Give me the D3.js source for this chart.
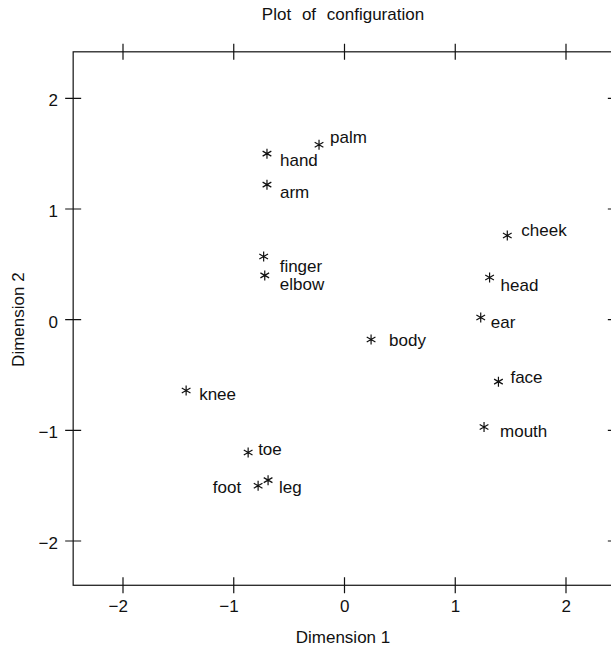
<!DOCTYPE html>
<html>
<head>
<meta charset="utf-8">
<script src="https://cdn.jsdelivr.net/npm/d3@7"></script>
<style>
  body { margin: 0; background: #fff; }
  svg text { font-family: "Liberation Sans", Arial, Helvetica, sans-serif; fill: #111; }
</style>
</head>
<body>
<svg id="chart" width="611" height="656"></svg>
<script>
//
// values
var names = ['palm', 'hand', 'arm', 'finger', 'elbow', 'cheek', 'head', 'ear', 'body',
             'face', 'mouth', 'knee', 'toe', 'foot', 'leg'],
    dim1 = [-0.23, -0.70, -0.70, -0.73, -0.72, 1.47, 1.31, 1.23, 0.24,
            1.39, 1.26, -1.43, -0.87, -0.78, -0.69],
    dim2 = [1.58, 1.50, 1.22, 0.57, 0.40, 0.76, 0.38, 0.02, -0.18,
            -0.56, -0.97, -0.64, -1.20, -1.50, -1.45],
    ticks = [-2, -1, 0, 1, 2];

// label placement (dx, dy from the point, and anchor)
var labelDx = [11, 13, 13, 16, 15, 14, 11, 10, 18, 12, 16, 13, 10, -17, 11],
    labelDy = [-8, 6, 7, 9, 9, -6, 7, 5, 0, -5, 4, 4, -3, 1, 7],
    labelAnchor = ['start', 'start', 'start', 'start', 'start', 'start', 'start', 'start', 'start',
                   'start', 'start', 'start', 'start', 'end', 'start'];

var svg = d3.select('#chart'),
    x = d3.scaleLinear().domain([-2, 2]).range([123, 566]),
    y = d3.scaleLinear().domain([-2, 2]).range([541, 98.3]),
    xLeft = x(-2.45), xRight = x(2.45), yTop = y(2.42), yBottom = y(-2.4),
    tickLen = 8,
    fmt = function(d) { return d < 0 ? '\u2212' + (-d) : '' + d; };

// frame
svg.append('rect')
  .attr('x', xLeft).attr('y', yTop)
  .attr('width', xRight - xLeft).attr('height', yBottom - yTop)
  .attr('fill', 'none').attr('stroke', '#111').attr('stroke-width', 1.2);

// ticks crossing the frame on all four sides
svg.selectAll('.xtick').data(ticks).enter()
  .append('path').attr('class', 'xtick')
  .attr('stroke', '#111').attr('stroke-width', 1.2)
  .attr('d', function(d) {
    return 'M' + x(d) + ',' + (yTop - tickLen) + 'v' + (2 * tickLen) +
           'M' + x(d) + ',' + (yBottom - tickLen) + 'v' + (2 * tickLen); });
svg.selectAll('.ytick').data(ticks).enter()
  .append('path').attr('class', 'ytick')
  .attr('stroke', '#111').attr('stroke-width', 1.2)
  .attr('d', function(d) {
    return 'M' + (xLeft - tickLen) + ',' + y(d) + 'h' + (2 * tickLen) +
           'M' + (xRight - tickLen) + ',' + y(d) + 'h' + (2 * tickLen); });

// tick labels: digit centred on the tick, minus hangs to the left
svg.selectAll('.xlab').data(ticks).enter()
  .append('text').attr('class', 'xlab')
  .attr('x', function(d) { return x(d) + 5; }).attr('y', 612)
  .attr('text-anchor', 'end').attr('font-size', 17)
  .text(fmt);
svg.selectAll('.ylab').data(ticks).enter()
  .append('text').attr('class', 'ylab')
  .attr('x', 58).attr('y', function(d) { return y(d) + 8; })
  .attr('text-anchor', 'end').attr('font-size', 17)
  .text(fmt);

// titles
svg.append('text')
  .attr('x', 343).attr('y', 20).attr('text-anchor', 'middle')
  .attr('font-size', 17).attr('word-spacing', 6)
  .text('Plot of configuration');
svg.append('text')
  .attr('x', 343).attr('y', 643).attr('text-anchor', 'middle')
  .attr('font-size', 17)
  .text('Dimension 1');
svg.append('text')
  .attr('transform', 'translate(24,' + y(0) + ') rotate(-90)')
  .attr('text-anchor', 'middle').attr('font-size', 17)
  .text('Dimension 2');

// asterisk markers
var r = 5,
    star = 'M0,' + (-r) + 'V' + r +
           'M' + (-r * 0.87) + ',' + (-r * 0.5) + 'L' + (r * 0.87) + ',' + (r * 0.5) +
           'M' + (-r * 0.87) + ',' + (r * 0.5) + 'L' + (r * 0.87) + ',' + (-r * 0.5);

var pts = svg.selectAll('.pt').data(d3.range(names.length)).enter()
  .append('g').attr('class', 'pt')
  .attr('transform', function(i) { return 'translate(' + x(dim1[i]) + ',' + y(dim2[i]) + ')'; });

pts.append('path')
  .attr('d', star).attr('stroke', '#111').attr('stroke-width', 1.2).attr('fill', 'none');

pts.append('text')
  .attr('x', function(i) { return labelDx[i]; })
  .attr('y', function(i) { return labelDy[i] + 6; })
  .attr('text-anchor', function(i) { return labelAnchor[i]; })
  .attr('font-size', 17)
  .text(function(i) { return names[i]; });
</script>
</body>
</html>
